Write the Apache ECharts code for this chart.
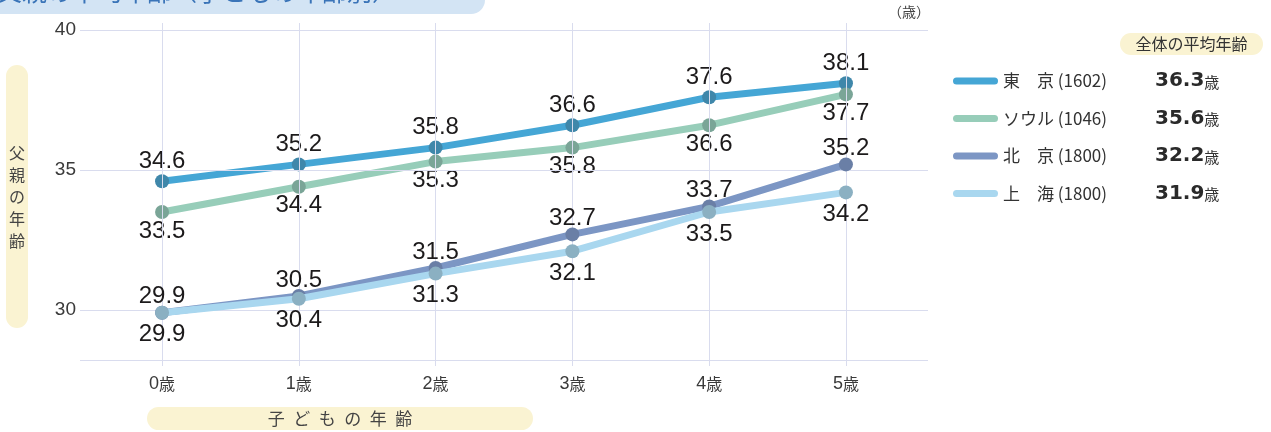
<!DOCTYPE html>
<html>
<head>
<meta charset="utf-8">
<script src="https://cdn.jsdelivr.net/npm/echarts@6/dist/echarts.min.js"></script>
<style>
  html, body { margin: 0; padding: 0; background: #ffffff; }
  #chart { width: 1271px; height: 432px; }
</style>
</head>
<body>
<div id="chart"></div>
<script>
// Child's age (categories) and father's average age per city
const categories = ['0歳', '1歳', '2歳', '3歳', '4歳', '5歳'];
const cityNames = ['東\u3000京', 'ソウル', '北\u3000京', '上\u3000海'];
const sampleSizes = [1602, 1046, 1800, 1800];
const overallAverages = ['36.3', '35.6', '32.2', '31.9'];
const tokyo = [34.6, 35.2, 35.8, 36.6, 37.6, 38.1];
const seoul = [33.5, 34.4, 35.3, 35.8, 36.6, 37.7];
const beijing = [29.9, 30.5, 31.5, 32.7, 33.7, 35.2];
const shanghai = [29.9, 30.4, 31.3, 32.1, 33.5, 34.2];
const yTicks = [30, 35, 40];
const yBaseLine = 28.2;

const lineColors = ['#45a6d5', '#97cdb9', '#7c96c4', '#a9d7ef'];
const markerColors = ['#3f87aa', '#7aa597', '#6a7fa6', '#8bb0c2'];
const labelSides = ['top', 'bottom', 'top', 'bottom'];
const labelGaps = [1, 0, -3, 3];
const cityValues = [tokyo, seoul, beijing, shanghai];

const FONT = "'Liberation Sans', 'Noto Sans CJK JP', sans-serif";
const CJK = "'Noto Sans CJK JP', sans-serif";
const GRID_COLOR = '#d9dcee';
const PILL = '#faf3d2';

const catIdx = categories.map((_, i) => i);

const citySeries = cityValues.map((vals, s) => ({
  name: cityNames[s],
  type: 'line',
  data: vals.map((v, i) => [i, v]),
  symbol: 'circle',
  symbolSize: 14,
  z: 3 + s,
  lineStyle: { color: lineColors[s], width: 7 },
  itemStyle: { color: markerColors[s] },
  label: {
    show: true,
    position: labelSides[s],
    distance: labelGaps[s],
    fontFamily: FONT,
    fontSize: 24,
    color: '#1c1a1b',
    formatter: p => p.value[1].toFixed(1)
  },
  emphasis: { disabled: true },
  animation: false
}));

// Background grid lines: horizontal at the y ticks and base, vertical at each category
const gridSeries = {
  type: 'line',
  data: [],
  z: 1,
  silent: true,
  animation: false,
  markLine: {
    silent: true,
    symbol: ['none', 'none'],
    label: { show: false },
    lineStyle: { color: GRID_COLOR, width: 1, type: 'solid' },
    emphasis: { disabled: true },
    animation: false,
    data: [yBaseLine].concat(yTicks).map(v => ({ yAxis: v }))
      .concat(catIdx.map(i => ({ xAxis: i })))
  }
};

const chart = echarts.init(document.getElementById('chart'), null, { renderer: 'canvas' });

chart.setOption({
  animation: false,
  textStyle: { fontFamily: FONT },
  grid: { left: 80, right: 343, top: 23, bottom: 66, containLabel: false },
  xAxis: {
    type: 'value',
    min: -0.6,
    max: 5.6,
    splitLine: { show: false },
    axisLine: { show: false },
    axisTick: { show: false },
    axisLabel: {
      customValues: catIdx,
      margin: 9,
      formatter: v => {
        const t = categories[Math.round(v)] || '';
        return '{d|' + t.slice(0, -1) + '}{u|' + t.slice(-1) + '}';
      },
      rich: {
        d: { fontFamily: FONT, fontSize: 18, color: '#3a3a3a' },
        u: { fontFamily: CJK, fontSize: 16, color: '#3a3a3a' }
      }
    }
  },
  yAxis: {
    type: 'value',
    min: 28,
    max: 40.25,
    splitLine: { show: false },
    axisLine: { show: false },
    axisTick: { show: false },
    axisLabel: {
      customValues: yTicks,
      margin: 4,
      fontFamily: FONT,
      fontSize: 19,
      color: '#3a3a3a'
    }
  },
  legend: {
    orient: 'vertical',
    left: 948,
    top: 66,
    itemWidth: 45,
    itemHeight: 7,
    itemGap: 17.5,
    selectedMode: false,
    icon: 'path://M3.5,0 L41.5,0 A3.5,3.5 0 0 1 41.5,7 L3.5,7 A3.5,3.5 0 0 1 3.5,0 Z',
    data: cityNames.map((n, s) => ({ name: n, itemStyle: { color: lineColors[s] } })),
    formatter: name => {
      const s = cityNames.indexOf(name);
      return '{n|' + name + ' (' + sampleSizes[s] + ')}{v|' + overallAverages[s] + '}{u|歳}';
    },
    textStyle: {
      rich: {
        n: { fontFamily: CJK, fontSize: 17, color: '#333333', width: 152, lineHeight: 22 },
        v: { fontFamily: "'DejaVu Sans', sans-serif", fontSize: 20, fontWeight: 'bold', color: '#2a2a2a', lineHeight: 22 },
        u: { fontFamily: CJK, fontSize: 15, color: '#333333', lineHeight: 22, padding: [2, 0, 0, 0] }
      }
    }
  },
  graphic: [
    // chart title strip
    {
      type: 'rect', x: -20, y: -30, z: 10,
      shape: { width: 505, height: 44, r: 14 },
      style: { fill: '#d3e4f4' }
    },
    {
      type: 'text', x: -3, y: -21, z: 11,
      style: { text: '父親の平均年齢（子どもの年齢別）', font: '25px ' + CJK, fill: '#3a74b8' }
    },
    // unit
    {
      type: 'text', x: 909, y: 12, z: 10,
      style: { text: '（歳）', font: '14px ' + CJK, fill: '#444444', align: 'center', verticalAlign: 'middle' }
    },
    // y axis title
    {
      type: 'rect', x: 6, y: 65, z: 10,
      shape: { width: 22, height: 263, r: 11 },
      style: { fill: PILL }
    },
    {
      type: 'text', x: 17, y: 197, z: 11,
      style: {
        text: '父\n親\nの\n年\n齢', font: '16px ' + CJK, lineHeight: 22,
        fill: '#444444', align: 'center', verticalAlign: 'middle'
      }
    },
    // x axis title
    {
      type: 'rect', x: 147, y: 407, z: 10,
      shape: { width: 386, height: 23, r: 11.5 },
      style: { fill: PILL }
    },
    {
      type: 'text', x: 340, y: 419, z: 11,
      style: {
        text: '子\u2002ど\u2002も\u2002の\u2002年\u2002齢',
        font: '17px ' + CJK, fill: '#444444', align: 'center', verticalAlign: 'middle'
      }
    },
    // legend header
    {
      type: 'rect', x: 1120, y: 33, z: 10,
      shape: { width: 143, height: 22, r: 11 },
      style: { fill: PILL }
    },
    {
      type: 'text', x: 1191.5, y: 44, z: 11,
      style: { text: '全体の平均年齢', font: '16px ' + CJK, fill: '#333333', align: 'center', verticalAlign: 'middle' }
    }
  ],
  series: [gridSeries].concat(citySeries)
});
</script>
</body>
</html>
